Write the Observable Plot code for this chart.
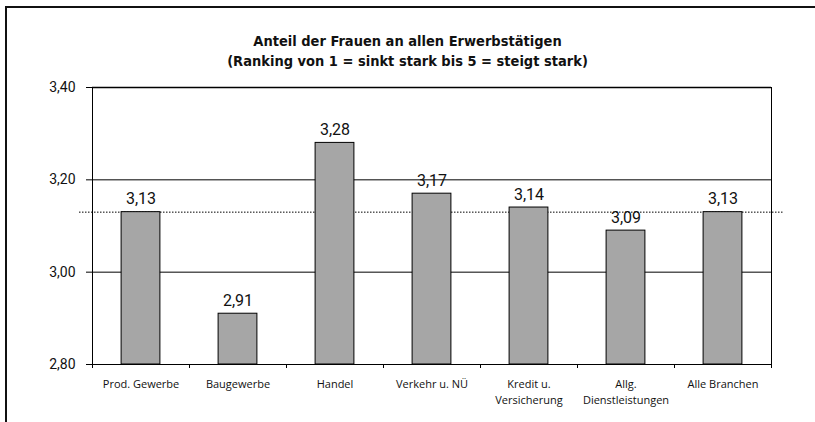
<!DOCTYPE html>
<html>
<head>
<meta charset="utf-8">
<script src="https://cdn.jsdelivr.net/npm/d3@7"></script>
<script src="https://cdn.jsdelivr.net/npm/@observablehq/plot@0.6"></script>
<style>
  html, body { margin: 0; padding: 0; background: #fff; }
  #page { position: relative; width: 815px; height: 422px; overflow: hidden; background: #fff; }
  #border { position: absolute; left: 5px; top: 6px; width: 840px; height: 440px;
            border-left: 2px solid #111; border-top: 2px solid #111; pointer-events: none; }
  #title { height: 80px; box-sizing: border-box; padding-top: 31px; text-align: center;
           font-family: "Liberation Sans Narrow", "DejaVu Sans Condensed", "Open Sans", sans-serif;
           font-weight: bold; font-size: 14.5px; line-height: 20px; color: #111; }
  #chart svg { display: block; }
  #chart .yax text { font-size: 14px; font-family: Roboto, sans-serif; }
</style>
</head>
<body>
<div id="page">
  <div id="title">
    <div>Anteil der Frauen an allen Erwerbstätigen</div>
    <div>(Ranking von 1 = sinkt stark bis 5 = steigt stark)</div>
  </div>
  <div id="chart"></div>
  <div id="border"></div>
</div>
<script>
const categories = ["Prod. Gewerbe", "Baugewerbe", "Handel", "Verkehr u. NÜ", "Kredit u.\nVersicherung", "Allg.\nDienstleistungen", "Alle Branchen"];
const values = [3.13, 2.91, 3.28, 3.17, 3.14, 3.09, 3.13];
const average = 3.13;
const yTicks = [2.80, 3.00, 3.20, 3.40];
const gridLines = [3.00, 3.20, 3.40];

const data = categories.map((c, i) => ({category: c, value: values[i], index: i}));
const fmt = v => v.toFixed(2).replace(".", ",");

const chart = Plot.plot({
  width: 815,
  height: 342,
  marginLeft: 92,
  marginRight: 44,
  marginTop: 7,
  marginBottom: 58,
  style: {background: "transparent", color: "#111", fontFamily: "Roboto, sans-serif"},
  x: {type: "linear", domain: [0, categories.length], axis: null},
  y: {domain: [2.8, 3.4], axis: null},
  marks: [
    Plot.ruleY(gridLines, {stroke: "#000", strokeWidth: 1}),
    Plot.ruleY([average], {stroke: "#000", strokeWidth: 1, strokeDasharray: "1.5,1.5", insetLeft: -13, insetRight: -13}),
    Plot.rect(data, {x1: d => d.index + 0.3, x2: d => d.index + 0.7, y1: 2.8, y2: "value",
                     fill: "#a6a6a6", stroke: "#000", strokeWidth: 1}),
    Plot.ruleX([0, categories.length], {stroke: "#000", strokeWidth: 1}),
    Plot.ruleY([2.8], {stroke: "#000", strokeWidth: 1}),
    Plot.ruleY([3.4], {stroke: "#000", strokeWidth: 1.5}),
    Plot.axisY({ticks: yTicks, tickFormat: fmt, tickSize: 6, tickPadding: 11, label: null,
                className: "yax", stroke: "#000"}),
    Plot.axisX({ticks: d3.range(categories.length + 1), tickFormat: () => "", tickSize: 4, label: null, stroke: "#000"}),
    Plot.text(data, {x: d => d.index + 0.5, y: 2.8, text: "category", lineAnchor: "top", dy: 12,
                     fontSize: 11, lineHeight: 1.45, fontFamily: "'Open Sans', sans-serif", fill: "#111"}),
    Plot.text(data, {x: d => d.index + 0.5, y: "value", text: d => fmt(d.value), lineAnchor: "bottom", dy: -8,
                     fontSize: 16, fontFamily: "Roboto, sans-serif", fill: "#111"})
  ]
});
document.getElementById("chart").appendChild(chart);
</script>
</body>
</html>
